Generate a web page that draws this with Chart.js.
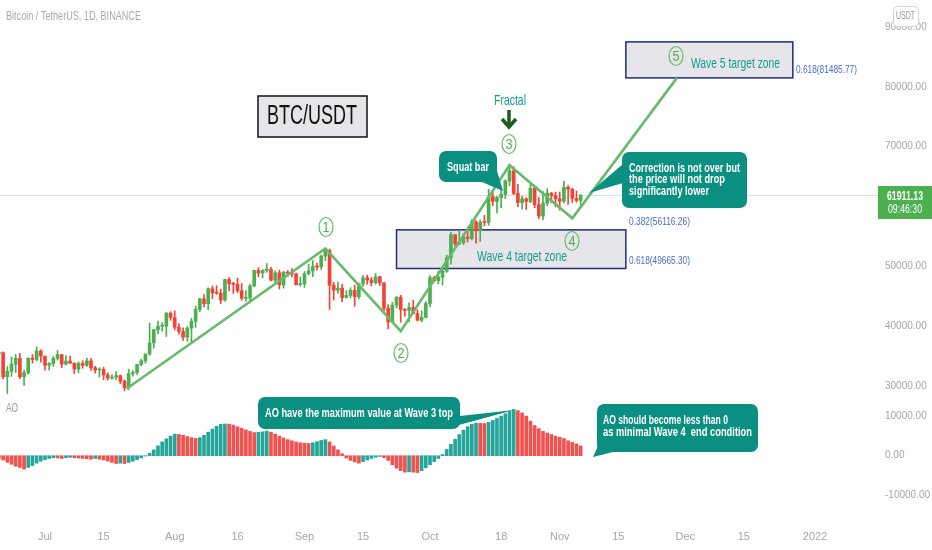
<!DOCTYPE html>
<html>
<head>
<meta charset="utf-8">
<title>BTC/USDT Elliott waves</title>
<script src="https://cdn.jsdelivr.net/npm/chart.js@4.4.1/dist/chart.umd.min.js"></script>
<style>
  html, body { margin: 0; padding: 0; background: #fff; }
  #wrap { position: relative; width: 932px; height: 550px; overflow: hidden; }
  canvas { position: absolute; left: 0; top: 0; }
</style>
</head>
<body>
<div id="wrap">
  <canvas id="aoChart" width="932" height="550"></canvas>
  <canvas id="priceChart" width="932" height="550"></canvas>
</div>
<script>
// day 0 = 1 Jul 2021, first candle is 20 Jun 2021
const START_DAY = -11;

// daily candles 20 Jun .. 6 Nov 2021
const openP = [
  35510, 35600, 31610, 32510, 33680, 34660, 31580, 32280, 34700, 34490, 35910,
  35050, 33500, 33790, 34670, 35290, 33690, 34220, 33860, 32880, 33820, 33500, 34260, 33090, 32730, 32820, 31880,
  31380, 31520, 31780, 30840, 29790, 32140, 32290, 33630, 34260, 35380, 37240, 39460, 40020, 40020, 42210,
  41460, 39850, 39150, 38210, 39720, 40860, 42840, 44610, 43790, 46290, 45600, 45550, 44400, 47820, 47110, 47020,
  45940, 44690, 44740, 46760, 49340, 48900, 49320, 49550, 47710, 48960, 46940, 49070, 48900, 48770, 46970,
  47100, 48810, 49250, 50000, 49920, 51760, 52670, 46870, 46050, 46400, 44840, 45170, 46030, 44940, 47100,
  48120, 47740, 47300, 48290, 47240, 43020, 40730, 43550, 44870, 42810, 42670, 43160, 42150, 41030, 41520,
  43820, 48140, 47630, 48200, 49220, 51470, 55320, 53790, 53950, 54950, 54660, 57470, 56000, 57370, 57350,
  61670, 60880, 61530, 62010, 64280, 66000, 62190, 60690, 61290, 60850, 63080, 60330, 58410, 60580, 62250, 61860,
  61300, 60910, 63220, 62900, 61400, 61010
];
const highP = [
  36460, 35750, 33300, 34880, 35300, 35500, 32700, 34750, 35300, 36600, 36100,
  35060, 33980, 34950, 35970, 35290, 35120, 35060, 33920, 34100, 34260, 34670, 34680, 33340, 33110, 33190, 32250,
  31940, 32440, 31900, 31060, 32860, 32590, 33650, 34500, 35400, 40550, 39540, 40900, 40640, 42320, 42450,
  42600, 40480, 39780, 39970, 41350, 43390, 44700, 45310, 46450, 46720, 46790, 46220, 47890, 48140, 47380, 48050,
  47160, 45990, 47030, 49400, 49820, 49500, 50500, 49880, 49290, 49380, 49160, 49310, 49660, 48910, 48250,
  49160, 50390, 51000, 50560, 51900, 52780, 52920, 47340, 47400, 47030, 45980, 46460, 46880, 47250, 48500,
  48560, 48180, 48840, 48370, 47350, 43640, 44000, 44980, 45200, 42970, 43950, 44350, 42790, 42590, 44130,
  48500, 48340, 49230, 49540, 51890, 55750, 55330, 56100, 55490, 56560, 57840, 57680, 57780, 58530, 62930,
  62380, 61700, 62700, 64490, 67000, 66640, 63730, 61750, 61500, 63710, 63290, 61500, 62500, 62980, 62360, 62410,
  62440, 64270, 63500, 63090, 62600, 62000
];
const lowP = [
  33350, 31250, 28800, 31680, 32290, 31280, 30150, 32000, 33860, 34230, 34020,
  32710, 32700, 33320, 34360, 33130, 33530, 33780, 32130, 32260, 33000, 33310, 32660, 32200, 31550, 31130, 31020,
  31160, 31110, 30410, 29280, 29480, 31710, 31930, 33400, 33850, 35210, 36380, 38770, 39200, 38310, 41000,
  39420, 38690, 37640, 37510, 37330, 39850, 42450, 43260, 42780, 44650, 45350, 43770, 44220, 45970, 45500, 45660,
  44380, 44200, 43930, 46640, 48290, 48120, 49030, 47600, 47120, 46250, 46380, 48370, 48260, 46900, 46700,
  46510, 48640, 48320, 49400, 49500, 50970, 42840, 44410, 45510, 44130, 44720, 44740, 43370, 44590, 46680,
  47020, 46750, 47030, 46830, 42500, 39600, 40570, 43070, 40680, 41650, 40750, 42100, 40890, 40750, 41410,
  43280, 47430, 47090, 46890, 49020, 50380, 53360, 53620, 53660, 54080, 54420, 53880, 54170, 56820, 56850,
  60150, 58960, 59840, 61320, 63480, 62000, 60000, 59560, 59510, 60650, 59820, 58000, 57820, 60170, 60670, 59950,
  59410, 60620, 60380, 60680, 60720, 60130
];
const closeP = [
  35600, 31610, 32510, 33680, 34660, 31590, 32280, 34700, 34490, 35910, 35050,
  33500, 33790, 34670, 35290, 33690, 34220, 33860, 32880, 33820, 33500, 34260, 33090, 32730, 32820, 31880, 31380,
  31520, 31780, 30840, 29790, 32140, 32290, 33630, 34260, 35380, 37240, 39460, 40020, 40020, 42210, 41460,
  39850, 39150, 38210, 39720, 40860, 42840, 44610, 43790, 46290, 45600, 45550, 44400, 47820, 47110, 47020, 45940,
  44690, 44740, 46760, 49340, 48900, 49320, 49550, 47710, 48960, 46940, 49070, 48900, 48770, 46970, 47100,
  48810, 49250, 50000, 49920, 51760, 52670, 46870, 46050, 46400, 44840, 45170, 46030, 44940, 47100, 48120,
  47740, 47300, 48290, 47240, 43020, 40730, 43550, 44870, 42810, 42670, 43160, 42150, 41030, 41520, 43820,
  48140, 47630, 48200, 49220, 51470, 55320, 53790, 53950, 54950, 54660, 57470, 56000, 57370, 57350, 61670,
  60880, 61530, 62010, 64280, 66000, 62190, 60690, 61290, 60850, 63080, 60330, 58410, 60580, 62250, 61860, 61300,
  60910, 63220, 62900, 61400, 61010, 61910
];

// Awesome Oscillator, same days
const aoValues = [
  -700, -1100, -1700, -2200, -2700, -3000, -3400, -3000, -2500, -1900, -1400,
  -1000, -700, -500, -600, -700, -500, -400, -500, -600, -700,
  -800, -900, -700, -900, -1100, -1400, -1700, -2000, -1900, -2000,
  -1700, -1400, -1000, -600, -100, 600, 1500, 2500, 3500, 4300,
  5000, 5500, 5400, 5200, 4900, 4600, 4400, 4600, 5200, 6000,
  6800, 7500, 8000, 8100, 8050, 7800, 7400, 7000, 6600, 6200,
  5900, 6000, 6100, 6300, 6000, 5500, 5000, 4500, 4100, 3800,
  3500, 3300, 3200, 3100, 3300, 3600, 3900, 4100, 3500, 2500,
  1500, 500, -600, -1200, -1600, -1900, -1500, -1100, -700, -400,
  -200, -500, -1200, -2300, -3200, -3800, -4200, -4100, -4200, -4300,
  -3800, -3100, -2300, -1500, -700, 300, 1600, 2900, 4200, 5400,
  6500, 7400, 8000, 8300, 8250, 8200, 8500, 9000, 9500, 10100,
  10700, 11300, 11800, 11500, 10900, 10100, 8800, 7700, 6900, 6200,
  5800, 5400, 5000, 4700, 4400, 3800, 3400, 3000, 2500
];

// wave count 0-1-2-3-4-5 (day, price)
const waveDays = [19.5, 67, 85, 111, 126, 151];
const wavePrices = [29600, 53000, 39200, 66900, 58050, 81485.77];

const xTickDays = [0, 14, 31, 46, 62, 76, 92, 109, 123, 137, 153, 167, 184];
const xTickLabels = ['Jul', '15', 'Aug', '16', 'Sep', '15', 'Oct', '18', 'Nov', '15', 'Dec', '15', '2022'];
const priceTicks = [30000, 40000, 50000, 60000, 70000, 80000, 90000];
const aoTicks = [-10000, 0, 10000];

const lastPrice = 61911.13;
const fib4Top = 56116.26, fib4Bottom = 49665.30, fib5 = 81485.77;

const FONT = '"Liberation Sans Narrow", "Arial Narrow", "Liberation Sans", sans-serif';
const UP = '#4caf50', DOWN = '#f44336';
const AO_UP = '#26a69a', AO_DOWN = '#ef5350';
const TEAL = '#0a8f80', TEAL_TEXT = '#149c8b', WAVE = '#66bb6a', FIB = '#4a6cd4', AXIS = '#a3a6ad';

const X_MIN = -10.75, X_MAX = 199.05;

function xAxis(show) {
  return {
    type: 'linear', min: X_MIN, max: X_MAX, offset: false, display: show,
    grid: { display: false, drawTicks: false }, border: { display: false },
    afterBuildTicks: s => { s.ticks = xTickDays.map(v => ({ value: v })); },
    ticks: {
      autoSkip: false, maxRotation: 0, padding: 10, color: AXIS,
      font: { family: FONT, size: 11 },
      callback: (v, i) => xTickLabels[i]
    },
    afterFit: s => {
      s.height = show ? 30 : 0;
      s.paddingLeft = 0;
      s.paddingRight = 0;
    }
  };
}

function yAxis(min, max, ticks) {
  return {
    position: 'right', min: min, max: max,
    grid: { display: false, drawTicks: false }, border: { display: false },
    afterBuildTicks: s => { s.ticks = ticks.map(v => ({ value: v })); },
    ticks: { padding: 7, color: AXIS, font: { family: FONT, size: 10 }, callback: v => v.toFixed(2) },
    afterFit: s => { s.width = 54; s.paddingTop = 0; s.paddingBottom = 0; }
  };
}

// text squeezed or stretched to the width it has in the picture
function putText(ctx, str, left, y, width, font, color) {
  ctx.save();
  ctx.font = font;
  ctx.fillStyle = color;
  ctx.textBaseline = 'middle';
  ctx.textAlign = 'left';
  const w = ctx.measureText(str).width;
  ctx.translate(left, y);
  if (width) ctx.scale(width / w, 1);
  ctx.fillText(str, 0, 0);
  ctx.restore();
}

function bubble(ctx, x, y, w, h, tail) {
  ctx.fillStyle = TEAL;
  ctx.beginPath();
  ctx.roundRect(x, y, w, h, 7);
  ctx.fill();
  ctx.beginPath();
  ctx.moveTo(tail[0][0], tail[0][1]);
  ctx.lineTo(tail[1][0], tail[1][1]);
  ctx.lineTo(tail[2][0], tail[2][1]);
  ctx.closePath();
  ctx.fill();
}

function waveMark(ctx, n, cx, cy) {
  ctx.save();
  ctx.strokeStyle = WAVE;
  ctx.lineWidth = 1.2;
  ctx.beginPath();
  ctx.ellipse(cx, cy, 7, 9.5, 0, 0, Math.PI * 2);
  ctx.stroke();
  ctx.restore();
  putText(ctx, String(n), cx - 3.5, cy + 0.5, 7, '15px ' + FONT, '#4caf50');
}

function zone(ctx, x0, x1, y0, y1) {
  ctx.save();
  ctx.fillStyle = '#e6e6ea';
  ctx.fillRect(x0, y0, x1 - x0, y1 - y0);
  ctx.strokeStyle = '#1f2d7a';
  ctx.lineWidth = 1.5;
  ctx.strokeRect(x0, y0, x1 - x0, y1 - y0);
  ctx.restore();
}

const underMarks = {
  id: 'underMarks',
  beforeDatasetsDraw(chart) {
    const { ctx, scales: { x, y }, chartArea } = chart;
    ctx.save();
    // last price line
    const py = Math.round(y.getPixelForValue(lastPrice)) + 0.5;
    ctx.strokeStyle = '#d5e4e0';
    ctx.lineWidth = 1;
    ctx.beginPath();
    ctx.moveTo(chartArea.left, py);
    ctx.lineTo(chartArea.right, py);
    ctx.stroke();
    // target zones
    zone(ctx, x.getPixelForValue(84), x.getPixelForValue(138.8), y.getPixelForValue(fib4Top), y.getPixelForValue(fib4Bottom));
    zone(ctx, x.getPixelForValue(138.8), x.getPixelForValue(178.7), y.getPixelForValue(87500), y.getPixelForValue(fib5));
    putText(ctx, 'Wave 4 target zone', 477, 257, 90, '15px ' + FONT, TEAL_TEXT);
    putText(ctx, 'Wave 5 target zone', 691, 64, 89, '15px ' + FONT, TEAL_TEXT);
    ctx.restore();
  }
};

const overMarks = {
  id: 'overMarks',
  afterDraw(chart) {
    const { ctx } = chart;
    ctx.save();

    putText(ctx, 'Bitcoin / TetherUS, 1D, BINANCE', 6, 17, 135, '12px ' + FONT, '#a7aab1');
    putText(ctx, 'AO', 6, 409, 12, '12px ' + FONT, '#9a9da5');

    // title box
    ctx.fillStyle = '#e6e6ea';
    ctx.fillRect(258, 96, 109, 41);
    ctx.strokeStyle = '#111';
    ctx.lineWidth = 1.5;
    ctx.strokeRect(258, 96, 109, 41);
    putText(ctx, 'BTC/USDT', 267, 117, 90, '27px ' + FONT, '#111');

    // wave numbers
    waveMark(ctx, 1, 326, 227);
    waveMark(ctx, 2, 401, 353);
    waveMark(ctx, 3, 509, 144);
    waveMark(ctx, 4, 572, 241);
    waveMark(ctx, 5, 676, 56);

    // fractal arrow
    putText(ctx, 'Fractal', 494, 101, 32, '15px ' + FONT, TEAL_TEXT);
    ctx.strokeStyle = '#1b5e20';
    ctx.lineWidth = 3.5;
    ctx.beginPath();
    ctx.moveTo(509, 110);
    ctx.lineTo(509, 126);
    ctx.stroke();
    ctx.beginPath();
    ctx.moveTo(502, 119);
    ctx.lineTo(509, 127);
    ctx.lineTo(516, 119);
    ctx.stroke();

    // fib labels
    putText(ctx, '0.382(56116.26)', 629, 222, 61, '11px ' + FONT, FIB);
    putText(ctx, '0.618(49665.30)', 629, 261, 61, '11px ' + FONT, FIB);
    putText(ctx, '0.618(81485.77)', 796, 70, 61, '11px ' + FONT, FIB);

    // callouts
    const bold = 'bold 13px ' + FONT;
    bubble(ctx, 439, 151, 58, 31, [[482, 182], [497, 171], [503, 191]]);
    putText(ctx, 'Squat bar', 447, 167, 42, bold, '#fff');

    bubble(ctx, 622, 152, 125, 56, [[623, 164], [623, 183], [589, 193]]);
    putText(ctx, 'Correction is not over but', 629, 168, 111, bold, '#fff');
    putText(ctx, 'the price will not drop', 629, 179, 96, bold, '#fff');
    putText(ctx, 'significantly lower', 629, 191, 80, bold, '#fff');

    bubble(ctx, 258, 397, 202, 32, [[444, 429], [460, 416], [514, 410]]);
    putText(ctx, 'AO have the maximum value at Wave 3 top', 265, 413, 188, bold, '#fff');

    bubble(ctx, 597, 404, 161, 48, [[599, 444], [613, 452], [593, 457]]);
    putText(ctx, 'AO should become less than 0', 603, 420, 125, bold, '#fff');
    putText(ctx, 'as minimal Wave 4  end condition', 603, 432, 149, bold, '#fff');

    // axis extras
    ctx.fillStyle = '#fff';
    ctx.strokeStyle = '#d1d4dc';
    ctx.lineWidth = 1;
    ctx.beginPath();
    ctx.roundRect(893.5, 6.5, 25, 20, 4);
    ctx.fill();
    ctx.stroke();
    putText(ctx, 'USDT', 896, 16.5, 19, '10px ' + FONT, '#9598a1');

    ctx.fillStyle = '#4caf50';
    ctx.fillRect(878, 186, 54, 33);
    putText(ctx, '61911.13', 887, 197, 36, 'bold 12px ' + FONT, '#fff');
    putText(ctx, '09:46:30', 888, 210, 34, '12px ' + FONT, '#fff');

    ctx.restore();
  }
};

const days = closeP.map((_, i) => START_DAY + i);
const candleColors = closeP.map((c, i) => (c >= openP[i] ? UP : DOWN));
const aoColors = aoValues.map((v, i) => (i > 0 && v > aoValues[i - 1] ? AO_UP : AO_DOWN));

new Chart(document.getElementById('priceChart'), {
  type: 'bar',
  data: {
    datasets: [
      {
        type: 'line',
        data: waveDays.map((d, i) => ({ x: d, y: wavePrices[i] })),
        borderColor: WAVE, borderWidth: 2.6, pointRadius: 0, tension: 0, order: 0
      },
      {
        data: days.map((d, i) => ({ x: d, y: [Math.min(openP[i], closeP[i]), Math.max(openP[i], closeP[i])] })),
        backgroundColor: candleColors, barThickness: 3, minBarLength: 1, grouped: false, order: 1
      },
      {
        data: days.map((d, i) => ({ x: d, y: [lowP[i], highP[i]] })),
        backgroundColor: candleColors, barThickness: 1, grouped: false, order: 2
      }
    ]
  },
  options: {
    responsive: false, animation: false, events: [],
    layout: { padding: { top: 0, left: 0, right: 0, bottom: 150 } },
    plugins: { legend: { display: false }, tooltip: { enabled: false } },
    scales: { x: xAxis(false), y: yAxis(27713, 94491, priceTicks) }
  },
  plugins: [underMarks, overMarks]
});

new Chart(document.getElementById('aoChart'), {
  type: 'bar',
  data: {
    datasets: [{
      data: days.map((d, i) => ({ x: d, y: aoValues[i] })),
      backgroundColor: aoColors, barThickness: 3, grouped: false
    }]
  },
  options: {
    responsive: false, animation: false, events: [],
    layout: { padding: { top: 400, left: 0, right: 0, bottom: 0 } },
    plugins: { legend: { display: false }, tooltip: { enabled: false } },
    scales: { x: xAxis(true), y: yAxis(-16403, 14209, aoTicks) }
  }
});
</script>
</body>
</html>
